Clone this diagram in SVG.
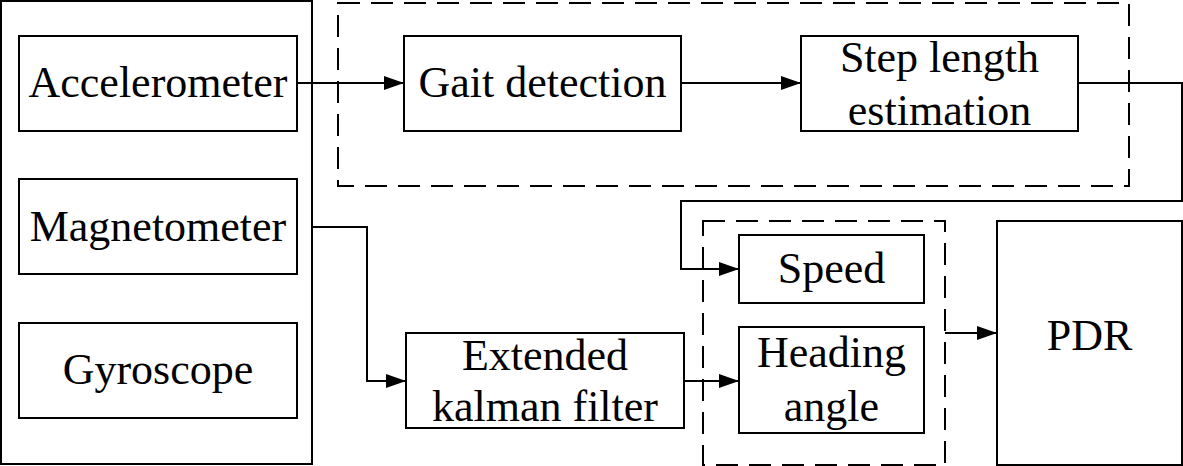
<svg xmlns="http://www.w3.org/2000/svg" width="1183" height="466" viewBox="0 0 1183 466">
<defs>
<style>
.box{fill:#fff;stroke:#000;stroke-width:2}
.grp{fill:none;stroke:#000;stroke-width:2;stroke-dasharray:22 11}
.wire{fill:none;stroke:#000;stroke-width:2}
.lbl{font-family:'Liberation Serif','Tinos','Times New Roman',Times,serif;font-size:44px;fill:#000;text-anchor:middle}
</style>
<marker id="arr" viewBox="0 0 20 14" refX="20" refY="7" markerWidth="20" markerHeight="14" markerUnits="userSpaceOnUse" orient="auto">
<path d="M0,0 L20,7 L0,14 Z" fill="#000"/>
</marker>
</defs>
<rect width="1183" height="466" fill="#fff"/>
<g id="sensors">
<rect class="box" x="1" y="1" width="311" height="463"/>
</g>
<g id="group-step">
<rect class="grp" x="338" y="3" width="791" height="183"/>
</g>
<g id="group-speed-heading">
<rect class="grp" x="703" y="221" width="242" height="244"/>
</g>
<g id="accelerometer">
<rect class="box" x="19" y="36" width="278" height="95"/>
<text class="lbl" x="158" y="97">Accelerometer</text>
</g>
<g id="magnetometer">
<rect class="box" x="19" y="179" width="278" height="95"/>
<text class="lbl" x="158" y="241">Magnetometer</text>
</g>
<g id="gyroscope">
<rect class="box" x="19" y="323" width="278" height="95"/>
<text class="lbl" x="158" y="384">Gyroscope</text>
</g>
<g id="gait">
<rect class="box" x="404" y="36" width="277" height="95"/>
<text class="lbl" x="542.5" y="97">Gait detection</text>
</g>
<g id="steplength">
<rect class="box" x="801" y="36" width="277" height="95"/>
<text class="lbl" x="939.5" y="72">Step length</text>
<text class="lbl" x="939.5" y="125">estimation</text>
</g>
<g id="ekf">
<rect class="box" x="406" y="333" width="278" height="95"/>
<text class="lbl" x="545" y="370">Extended</text>
<text class="lbl" x="545" y="421">kalman filter</text>
</g>
<g id="speed">
<rect class="box" x="739" y="235" width="185" height="68"/>
<text class="lbl" x="831.5" y="283">Speed</text>
</g>
<g id="heading">
<rect class="box" x="739" y="327" width="185" height="106"/>
<text class="lbl" x="831.5" y="367">Heading</text>
<text class="lbl" x="831.5" y="421">angle</text>
</g>
<g id="pdr">
<rect class="box" x="997" y="221" width="185" height="244"/>
<text class="lbl" x="1089.5" y="350">PDR</text>
</g>
<g id="connectors">
<polyline class="wire" points="297,83 404,83" marker-end="url(#arr)"/>
<polyline class="wire" points="681,83 801,83" marker-end="url(#arr)"/>
<polyline class="wire" points="1078,83 1182,83 1182,201 681,201 681,269 739,269" marker-end="url(#arr)"/>
<polyline class="wire" points="312,227 367,227 367,381 406,381" marker-end="url(#arr)"/>
<polyline class="wire" points="684,381 739,381" marker-end="url(#arr)"/>
<polyline class="wire" points="945,333 997,333" marker-end="url(#arr)"/>
</g>
</svg>
